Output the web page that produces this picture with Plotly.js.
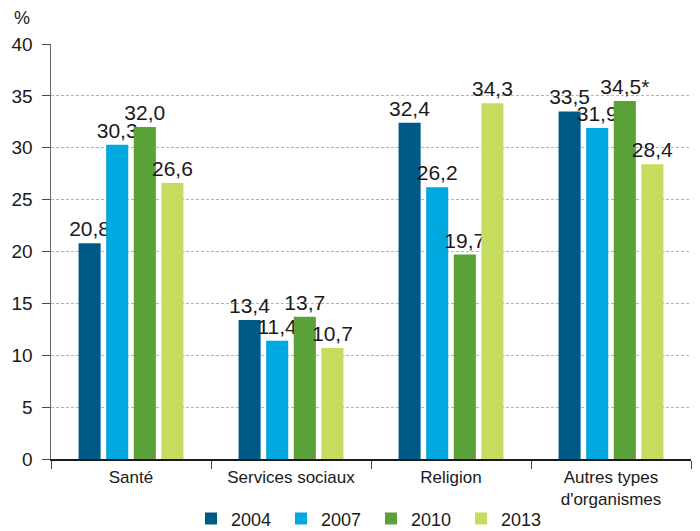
<!DOCTYPE html>
<html>
<head>
<meta charset="utf-8">
<script src="https://cdn.plot.ly/plotly-3.0.1.min.js"></script>
<style>html,body{margin:0;padding:0;background:#fff}#chart{width:700px;height:531px}</style>
</head>
<body>
<div id="chart"></div>
<script>
const categories = ["Santé", "Services sociaux", "Religion", "Autres types<br>d'organismes"];
const years = ["2004", "2007", "2010", "2013"];
const v2004 = [20.8, 13.4, 32.4, 33.5];
const v2007 = [30.3, 11.4, 26.2, 31.9];
const v2010 = [32.0, 13.7, 19.7, 34.5];
const v2013 = [26.6, 10.7, 34.3, 28.4];
const l2010 = ["32,0", "13,7", "19,7", "34,5*"];
const colors = ["#005a87", "#00a8e0", "#5ba13a", "#c5dc5e"];
const series = [v2004, v2007, v2010, v2013];
const FONT = "'Liberation Sans', Arial, sans-serif";

const fmt = v => v.toFixed(1).replace('.', ',');
const traces = series.map((vals, i) => ({
  type: 'bar',
  name: years[i],
  x: categories,
  y: vals,
  text: i === 2 ? l2010 : vals.map(fmt),
  textposition: 'outside',
  textfont: {family: FONT, size: 21, color: '#1a1a1a'},
  constraintext: 'none',
  cliponaxis: false,
  marker: {color: colors[i]},
  hoverinfo: 'none'
}));

const layout = {
  width: 700, height: 531,
  margin: {l: 51, r: 9, t: 44, b: 72},
  paper_bgcolor: '#fff', plot_bgcolor: '#fff',
  barmode: 'group',
  bargap: 0.31,
  bargroupgap: 0.2,
  font: {family: FONT, size: 17, color: '#1a1a1a'},
  xaxis: {
    type: 'category',
    tickson: 'boundaries',
    ticks: 'outside', ticklen: 8, tickcolor: '#444', tickwidth: 1,
    showline: true, linecolor: '#1a1a1a', linewidth: 1.5,
    showgrid: false,
    ticklabelstandoff: 2,
    tickfont: {family: FONT, size: 17, color: '#1a1a1a'}
  },
  yaxis: {
    range: [0, 40], dtick: 5,
    ticks: 'outside', ticklen: 8, tickcolor: '#444', tickwidth: 1,
    showline: true, linecolor: '#666', linewidth: 1.5,
    showgrid: true, gridcolor: '#b5b5b5', griddash: '3px,2px', gridwidth: 1,
    zeroline: false,
    ticklabelstandoff: 5,
    tickfont: {family: FONT, size: 19, color: '#1a1a1a'}
  },
  legend: {
    orientation: 'h', x: 0.5, xanchor: 'center',
    yref: 'container', y: 0.023, yanchor: 'middle',
    font: {family: FONT, size: 18, color: '#1a1a1a'},
    itemwidth: 30, tracegroupgap: 0,
    entrywidth: 45, entrywidthmode: 'pixels'
  },
  annotations: [{
    text: '%', xref: 'paper', yref: 'paper', x: -0.045, y: 1.063,
    xanchor: 'center', yanchor: 'middle', showarrow: false,
    font: {family: FONT, size: 18, color: '#1a1a1a'}
  }]
};

Plotly.newPlot('chart', traces, layout, {displayModeBar: false, staticPlot: true});
</script>
</body>
</html>
